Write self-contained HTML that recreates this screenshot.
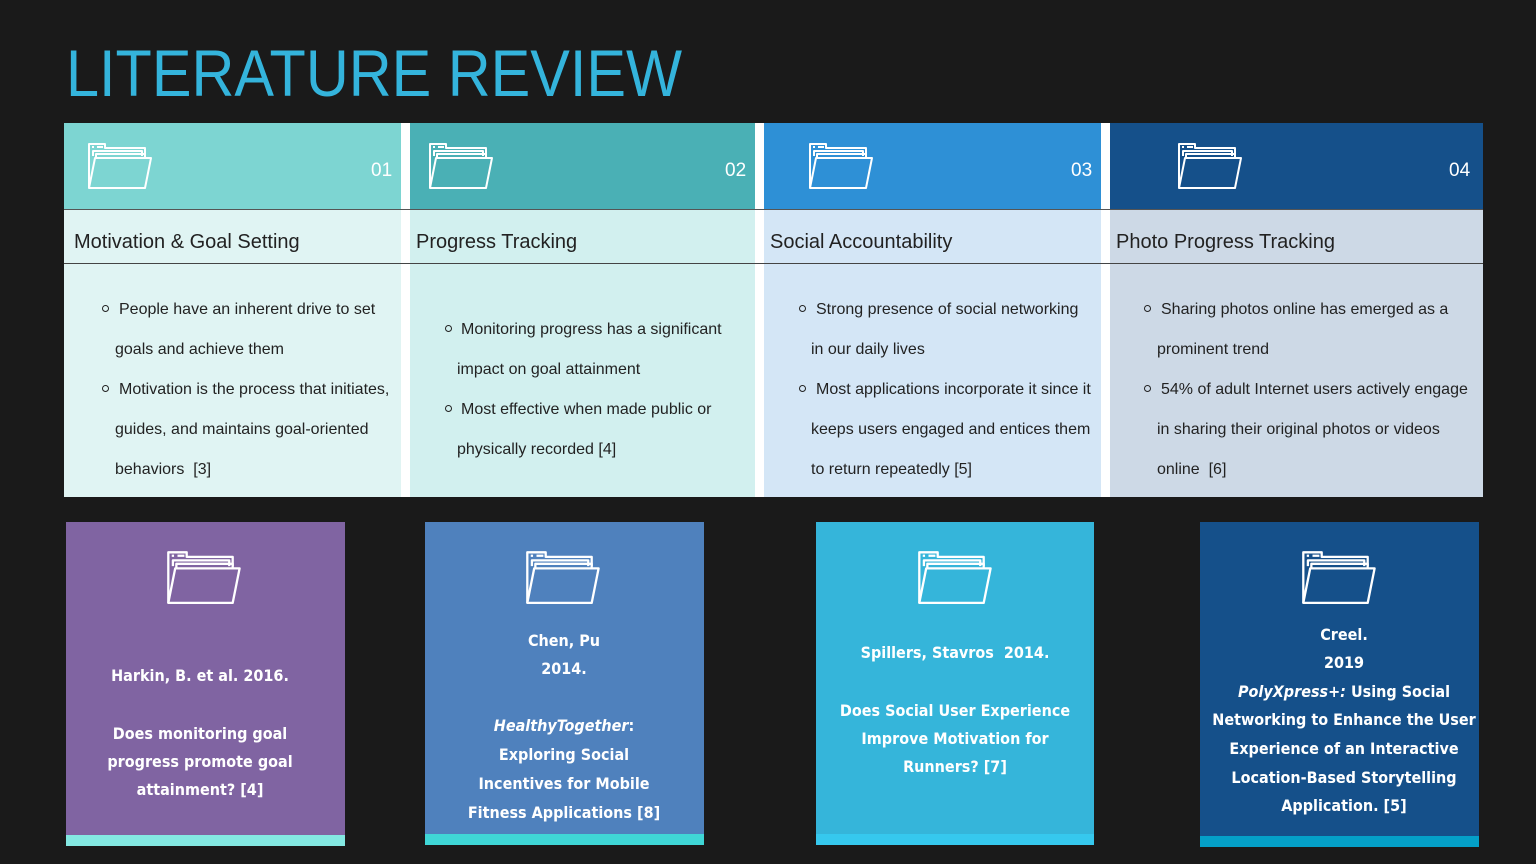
<!DOCTYPE html>
<html><head><meta charset="utf-8"><style>
body{margin:0;width:1536px;height:864px;background:#1a1a1a;position:relative;overflow:hidden;font-family:"Liberation Sans",sans-serif}
.a{position:absolute}
.t{position:absolute;white-space:nowrap;font-size:16px;color:#222;line-height:20px}
.c{position:absolute;white-space:nowrap;color:#fff;font-weight:bold;line-height:20px;text-align:center;transform:translateX(-50%);font-family:"DejaVu Sans Condensed","DejaVu Sans",sans-serif;font-size:16px}
.b{position:absolute;width:5px;height:5px;border:1.5px solid #222;border-radius:50%}
.num{position:absolute;color:#fff;font-size:19px;line-height:20px}
.h{position:absolute;font-size:20px;color:#222;line-height:24px}
</style></head><body>
<svg width="0" height="0" style="position:absolute"><defs>
<g id="f" fill="none" stroke="#fff" stroke-width="2" stroke-linejoin="round">
<path d="M2 46 V2 H18 V6 H58 V14"/><path d="M6 14 V9 H55 V14"/><path d="M9 16 V12 H58 V16"/><path d="M2 46 L8 16 H64 L58 46 Z"/><path d="M5 5 H7 M10 5 H16"/>
</g></defs></svg>
<div class="a" style="left:66px;top:38px;font-size:66px;color:#34b4dc;line-height:70px;transform:scaleX(0.9);transform-origin:0 0">LITERATURE REVIEW</div>

<div class="a" style="left:64px;top:123px;width:1419px;height:374px;background:#fff"></div>
<div class="a" style="left:64px;top:123px;width:337px;height:87px;background:#7dd5d2"></div>
<div class="a" style="left:410px;top:123px;width:345px;height:87px;background:#4ab0b5"></div>
<div class="a" style="left:764px;top:123px;width:337px;height:87px;background:#2e90d6"></div>
<div class="a" style="left:1110px;top:123px;width:373px;height:87px;background:#15508a"></div>
<div class="a" style="left:64px;top:210px;width:337px;height:287px;background:#e0f4f3"></div>
<div class="a" style="left:410px;top:210px;width:345px;height:287px;background:#d2f0ef"></div>
<div class="a" style="left:764px;top:210px;width:337px;height:287px;background:#d4e6f6"></div>
<div class="a" style="left:1110px;top:210px;width:373px;height:287px;background:#cdd9e6"></div>
<div class="a" style="left:64px;top:209px;width:1419px;height:1px;background:#555"></div>
<div class="a" style="left:64px;top:263px;width:1419px;height:1px;background:#444"></div>

<svg class="a" style="left:87px;top:142px" width="66" height="50"><use href="#f"/></svg>
<svg class="a" style="left:428px;top:142px" width="66" height="50"><use href="#f"/></svg>
<svg class="a" style="left:808px;top:142px" width="66" height="50"><use href="#f"/></svg>
<svg class="a" style="left:1177px;top:142px" width="66" height="50"><use href="#f"/></svg>
<div class="num" style="left:371px;top:161px">01</div>
<div class="num" style="left:725px;top:161px">02</div>
<div class="num" style="left:1071px;top:161px">03</div>
<div class="num" style="left:1449px;top:161px">04</div>

<div class="h" style="left:74px;top:230px">Motivation &amp; Goal Setting</div>
<div class="h" style="left:416px;top:230px">Progress Tracking</div>
<div class="h" style="left:770px;top:230px">Social Accountability</div>
<div class="h" style="left:1116px;top:230px">Photo Progress Tracking</div>

<div class="b" style="left:102px;top:305px"></div><div class="t" style="left:119px;top:300px">People have an inherent drive to set</div>
<div class="t" style="left:115px;top:340px">goals and achieve them</div>
<div class="b" style="left:102px;top:385px"></div><div class="t" style="left:119px;top:380px">Motivation is the process that initiates,</div>
<div class="t" style="left:115px;top:420px">guides, and maintains goal-oriented</div>
<div class="t" style="left:115px;top:460px">behaviors&nbsp; [3]</div>

<div class="b" style="left:445px;top:325px"></div><div class="t" style="left:461px;top:320px">Monitoring progress has a significant</div>
<div class="t" style="left:457px;top:360px">impact on goal attainment</div>
<div class="b" style="left:445px;top:405px"></div><div class="t" style="left:461px;top:400px">Most effective when made public or</div>
<div class="t" style="left:457px;top:440px">physically recorded [4]</div>

<div class="b" style="left:799px;top:305px"></div><div class="t" style="left:816px;top:300px">Strong presence of social networking</div>
<div class="t" style="left:811px;top:340px">in our daily lives</div>
<div class="b" style="left:799px;top:385px"></div><div class="t" style="left:816px;top:380px">Most applications incorporate it since it</div>
<div class="t" style="left:811px;top:420px">keeps users engaged and entices them</div>
<div class="t" style="left:811px;top:460px">to return repeatedly [5]</div>

<div class="b" style="left:1144px;top:305px"></div><div class="t" style="left:1161px;top:300px">Sharing photos online has emerged as a</div>
<div class="t" style="left:1157px;top:340px">prominent trend</div>
<div class="b" style="left:1144px;top:385px"></div><div class="t" style="left:1161px;top:380px">54% of adult Internet users actively engage</div>
<div class="t" style="left:1157px;top:420px">in sharing their original photos or videos</div>
<div class="t" style="left:1157px;top:460px">online&nbsp; [6]</div>

<div class="a" style="left:66px;top:522px;width:279px;height:313px;background:#8064a2"></div>
<div class="a" style="left:66px;top:835px;width:279px;height:11px;background:#84e8e2"></div>
<div class="a" style="left:425px;top:522px;width:279px;height:312px;background:#4f81bd"></div>
<div class="a" style="left:425px;top:834px;width:279px;height:11px;background:#3fd6d6"></div>
<div class="a" style="left:816px;top:522px;width:278px;height:312px;background:#35b5da"></div>
<div class="a" style="left:816px;top:834px;width:278px;height:11px;background:#36c8ee"></div>
<div class="a" style="left:1200px;top:522px;width:279px;height:314px;background:#15508a"></div>
<div class="a" style="left:1200px;top:836px;width:279px;height:11px;background:#04a0c8"></div>

<svg class="a" style="left:166px;top:550px;transform:scale(1.15);transform-origin:0 0" width="66" height="50"><use href="#f"/></svg>
<svg class="a" style="left:525px;top:550px;transform:scale(1.15);transform-origin:0 0" width="66" height="50"><use href="#f"/></svg>
<svg class="a" style="left:917px;top:550px;transform:scale(1.15);transform-origin:0 0" width="66" height="50"><use href="#f"/></svg>
<svg class="a" style="left:1301px;top:550px;transform:scale(1.15);transform-origin:0 0" width="66" height="50"><use href="#f"/></svg>

<div class="c" style="left:200px;top:666px">Harkin, B. et al. 2016.</div>
<div class="c" style="left:200px;top:724px">Does monitoring goal</div>
<div class="c" style="left:200px;top:752px">progress promote goal</div>
<div class="c" style="left:200px;top:780px">attainment? [4]</div>

<div class="c" style="left:564px;top:631px">Chen, Pu</div>
<div class="c" style="left:564px;top:659px">2014.</div>
<div class="c" style="left:564px;top:716px"><i>HealthyTogether</i>:</div>
<div class="c" style="left:564px;top:745px">Exploring Social</div>
<div class="c" style="left:564px;top:774px">Incentives for Mobile</div>
<div class="c" style="left:564px;top:803px">Fitness Applications [8]</div>

<div class="c" style="left:955px;top:643px">Spillers, Stavros&nbsp; 2014.</div>
<div class="c" style="left:955px;top:701px">Does Social User Experience</div>
<div class="c" style="left:955px;top:729px">Improve Motivation for</div>
<div class="c" style="left:955px;top:757px">Runners? [7]</div>

<div class="c" style="left:1344px;top:625px">Creel.</div>
<div class="c" style="left:1344px;top:653px">2019</div>
<div class="c" style="left:1344px;top:682px"><i>PolyXpress+:</i> Using Social</div>
<div class="c" style="left:1344px;top:710px">Networking to Enhance the User</div>
<div class="c" style="left:1344px;top:739px">Experience of an Interactive</div>
<div class="c" style="left:1344px;top:768px">Location-Based Storytelling</div>
<div class="c" style="left:1344px;top:796px">Application. [5]</div>
</body></html>
